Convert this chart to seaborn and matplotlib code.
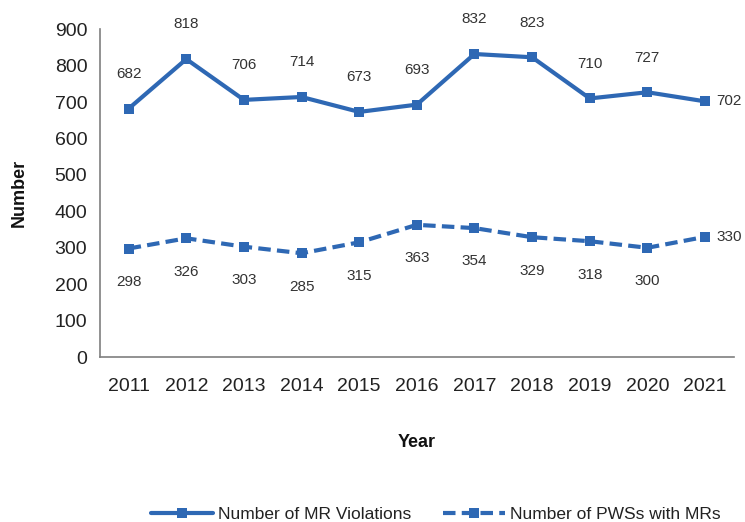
import matplotlib
matplotlib.use("Agg")
import matplotlib.pyplot as plt
import seaborn as sns
import pandas as pd
from matplotlib.ticker import FixedLocator, MultipleLocator

years = ["2011", "2012", "2013", "2014", "2015", "2016", "2017", "2018", "2019", "2020", "2021"]
mr_violations = [682, 818, 706, 714, 673, 693, 832, 823, 710, 727, 702]
pws_with_mrs = [298, 326, 303, 285, 315, 363, 354, 329, 318, 300, 330]
series_names = ["Number of MR Violations", "Number of PWSs with MRs"]

sns.set_theme(style="white")
plt.rcParams["font.family"] = ["Liberation Sans", "DejaVu Sans"]

color = "#2E68B4"
fig = plt.figure(figsize=(7.45, 5.22), dpi=100)
ax = fig.add_axes([0.134, 0.316, 0.851, 0.628])

df = pd.DataFrame({
    "Year": years * 2,
    "Number": mr_violations + pws_with_mrs,
    "Series": [series_names[0]] * len(years) + [series_names[1]] * len(years),
})

sns.lineplot(data=df, x="Year", y="Number", hue="Series", style="Series",
             palette=[color, color], dashes=[(None, None), (3, 1.5)],
             markers=["s", "s"], markersize=7, markeredgewidth=0,
             linewidth=3, ax=ax, sort=False)

ax.set_xlim(-0.5, len(years) - 0.5)
ax.set_ylim(0, 900)
ax.yaxis.set_major_locator(MultipleLocator(100))
ax.xaxis.set_minor_locator(FixedLocator([i - 0.5 for i in range(len(years) + 1)]))
ax.tick_params(axis="x", which="major", length=0, pad=15, labelsize=14, labelcolor="#222222")
ax.tick_params(axis="x", which="minor", length=5, width=1, color="#7f7f7f", direction="out")
ax.tick_params(axis="y", which="major", length=5, width=1, color="#7f7f7f", direction="out",
               labelsize=14, pad=4, labelcolor="#222222")

for s in ["top", "right"]:
    ax.spines[s].set_visible(False)
for s in ["left", "bottom"]:
    ax.spines[s].set_color("#7f7f7f")
    ax.spines[s].set_linewidth(1.2)

ax.set_xlabel("Year", fontsize=13, fontweight="bold", labelpad=28, color="#111111")
ax.set_ylabel("Number", fontsize=13, fontweight="bold", labelpad=19, color="#111111")

n = len(years)
for vals, dy in ((mr_violations, 25), (pws_with_mrs, -24)):
    for i, v in enumerate(vals):
        if i == n - 1:
            ax.annotate(str(v), (i, v), xytext=(8, 0), textcoords="offset points",
                        ha="left", va="center", fontsize=11, color="#333333")
        else:
            ax.annotate(str(v), (i, v), xytext=(0, dy), textcoords="offset points",
                        ha="center", va="center", fontsize=11, color="#333333")

leg = ax.legend(loc="center", bbox_to_anchor=(0.53, -0.48), ncol=2, frameon=False,
                fontsize=12.5, handlelength=3.6, columnspacing=1.8, handletextpad=0.3)
for t in leg.get_texts():
    t.set_color("#222222")
for h in leg.legend_handles:
    h.set_linewidth(3)

fig.savefig("out.png", dpi=100)
